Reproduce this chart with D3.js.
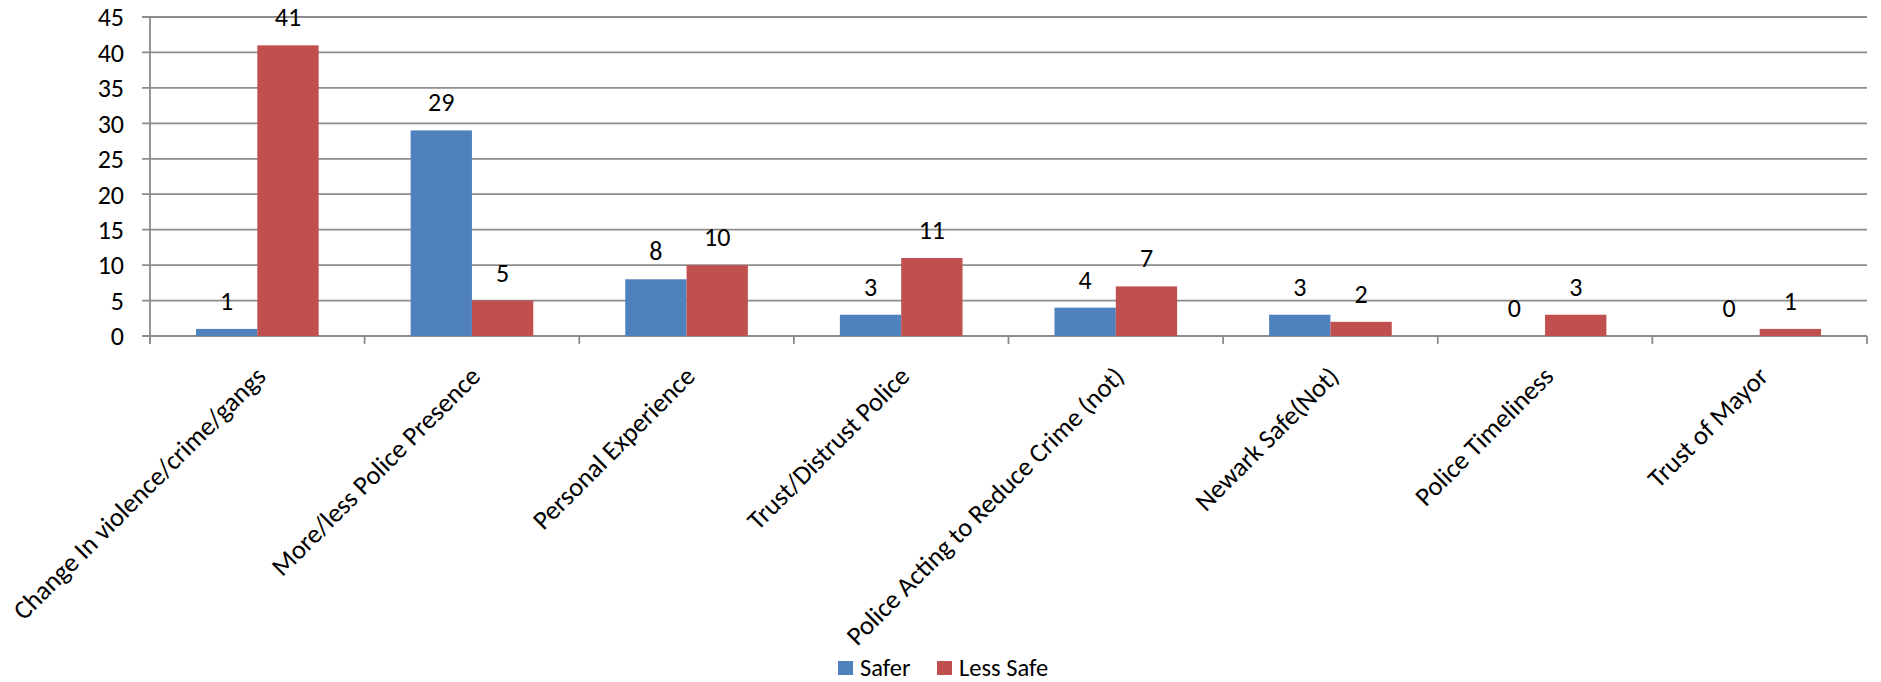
<!DOCTYPE html>
<html><head><meta charset="utf-8">
<script src="https://cdn.jsdelivr.net/npm/d3@7"></script>
<style>
html,body{margin:0;padding:0;background:#fff;}
svg{display:block;}
text{font-family:Carlito, Calibri, Lato, sans-serif;fill:#000;}
</style></head>
<body>
<svg id="chart" width="1881" height="682"></svg>
<script>
const categories = ["Change In violence/crime/gangs","More/less Police Presence","Personal Experience","Trust/Distrust Police","Police Acting to Reduce Crime (not)","Newark Safe(Not)","Police Timeliness","Trust of Mayor"];
const seriesNames = ["Safer","Less Safe"];
const saferValues = [1,29,8,3,4,3,0,0];
const lessSafeValues = [41,5,10,11,7,2,3,1];
const yTicks = [0,5,10,15,20,25,30,35,40,45];
const colors = ["#4F81BD","#C0504D"];

const svg = d3.select("#chart");
const margin = {left:150, right:14, top:17, bottom:346};
const W = 1881, H = 682;
const x0 = margin.left, x1 = W - margin.right;
const yBase = H - margin.bottom;

const x = d3.scaleBand().domain(categories).range([x0, x1]).padding(0);
const bw = x.bandwidth();
// two bars per group, gap width 150% of a bar
const barW = bw/3.5;
const xInner = d3.scaleBand().domain(seriesNames).range([0.75*barW, 2.75*barW]).padding(0);
const y = d3.scaleLinear().domain([0,45]).range([yBase, margin.top]);

const grid = "#8c8c8c";
svg.append("g").selectAll("line").data(yTicks).join("line")
  .attr("x1", x0-8).attr("x2", x1)
  .attr("y1", d=>y(d)).attr("y2", d=>y(d))
  .attr("stroke", grid).attr("stroke-width", 1.8);

svg.append("line").attr("x1",x0).attr("x2",x0).attr("y1",y(45)).attr("y2",yBase+8)
  .attr("stroke",grid).attr("stroke-width",1.8);
const bounds = categories.map(c=>x(c)).concat([x1]);
svg.append("g").selectAll("line").data(bounds).join("line")
  .attr("x1",d=>d).attr("x2",d=>d).attr("y1",yBase).attr("y2",yBase+8)
  .attr("stroke",grid).attr("stroke-width",1.8);

svg.append("g").selectAll("text").data(yTicks).join("text")
  .attr("x", x0-26).attr("y", d=>y(d)).attr("dy","0.36em")
  .attr("text-anchor","end").style("font-size","26px").text(d=>d);

const data = categories.map((c,i)=>({cat:c, vals:[saferValues[i], lessSafeValues[i]]}));
const groups = svg.append("g").selectAll("g").data(data).join("g")
  .attr("transform", d=>`translate(${x(d.cat)},0)`);
groups.selectAll("rect").data(d=>d.vals.map((v,j)=>({v, s:seriesNames[j], j})))
  .join("rect")
  .attr("x", d=>xInner(d.s)).attr("width", xInner.bandwidth())
  .attr("y", d=>y(d.v)).attr("height", d=>yBase - y(d.v))
  .attr("fill", d=>colors[d.j]);
groups.selectAll("text").data(d=>d.vals.map((v,j)=>({v, s:seriesNames[j], j})))
  .join("text")
  .attr("x", d=>xInner(d.s)+xInner.bandwidth()/2)
  .attr("y", d=>y(d.v)-19)
  .attr("text-anchor","middle").style("font-size","26px").text(d=>d.v);

svg.append("g").selectAll("text").data(categories).join("text")
  .attr("transform", d=>`translate(${x(d)+bw/2+10},${yBase+42}) rotate(-45)`)
  .attr("text-anchor","end").style("font-size","26.5px").text(d=>d);

const leg = svg.append("g").attr("transform","translate(838,661)");
const legX = [0, 99];
seriesNames.forEach((s,i)=>{
  const g = leg.append("g").attr("transform",`translate(${legX[i]},0)`);
  g.append("rect").attr("width",15).attr("height",14).attr("fill",colors[i]);
  g.append("text").attr("x",22).attr("y",15).style("font-size","24.5px").text(s);
});
</script>
</body></html>
